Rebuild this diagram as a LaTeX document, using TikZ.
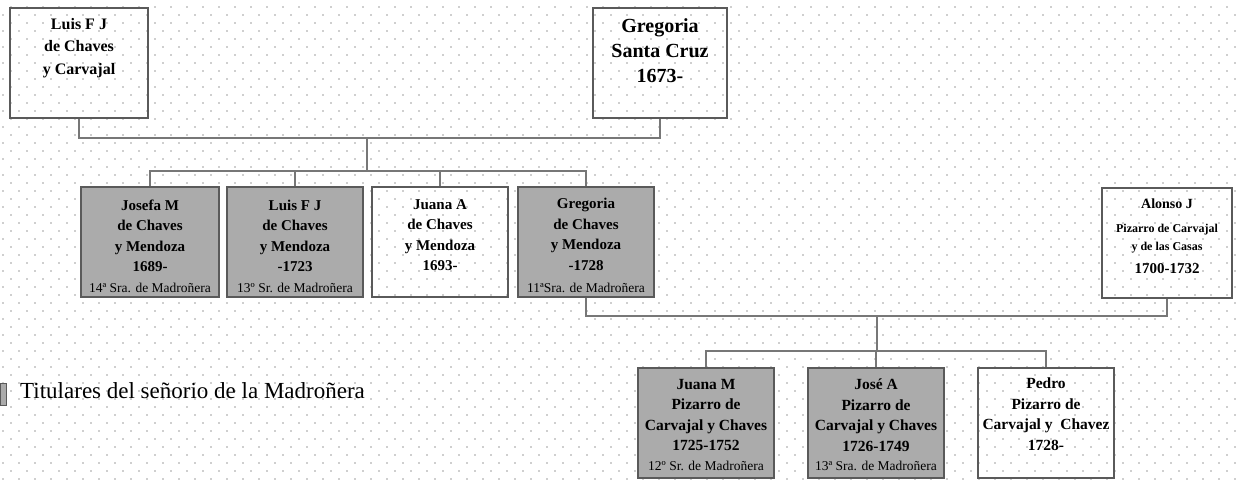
\documentclass[tikz,border=0pt]{standalone}
\usepackage{fontspec}
\setmainfont{Liberation Serif}
\definecolor{boxc}{HTML}{5A5A5A}
\definecolor{linec}{HTML}{777777}
\definecolor{fillc}{HTML}{ABABAB}
\definecolor{dotc}{HTML}{CFCFCF}
\tikzset{
  box/.style={draw=boxc, line width=1.6pt, minimum height=110pt, inner sep=0pt},
  grayfill/.style={fill=fillc},
  txt/.style={font=\bfseries\fontsize{15}{20.5}\selectfont, align=center, inner sep=0pt, anchor=north, text=black},
  rank/.style={font=\fontsize{13.5}{15}\selectfont, inner sep=0pt, anchor=base, text=black},
  small/.style={font=\bfseries\fontsize{12}{14}\selectfont, inner sep=0pt, anchor=base, text=black},
  conn/.style={draw=linec, line width=1.6pt}
}
\begin{document}
\begin{tikzpicture}[x=1pt,y=-1pt]
\useasboundingbox (0,0) rectangle (1240,483);
\fill[white] (0,0) rectangle (1240,483);
% background dot grid
\foreach \k in {0,...,29}{
  \foreach \i in {0,...,77}{
    \fill[dotc] ({11+16*\i-0.8},{6.7+16*\k-0.8}) rectangle ++(1.6,1.6);
    \fill[dotc] ({3+16*\i-0.8},{14.7+16*\k-0.8}) rectangle ++(1.6,1.6);
  }
}
% boxes
\node[box, minimum width=138pt] (A) at (79,63) {};
\node[box, minimum width=134pt] (B) at (660,63) {};
\node[box, grayfill, minimum width=138pt] (m1) at (150,242) {};
\node[box, grayfill, minimum width=136pt] (m2) at (295,242) {};
\node[box, minimum width=136pt] (m3) at (440,242) {};
\node[box, grayfill, minimum width=136pt] (m4) at (586,242) {};
\node[box, minimum width=130pt] (Al) at (1167,243) {};
\node[box, grayfill, minimum width=136pt] (b1) at (706,423) {};
\node[box, grayfill, minimum width=136pt] (b2) at (876,423) {};
\node[box, minimum width=136pt] (b3) at (1046,423) {};
% connectors top
\draw[conn] (A.south) -- ++(0,19) -| (B.south);
\coordinate (j1) at (367,137);
\coordinate (h1) at (367,172);
\draw[conn] (j1) -- (h1);
\draw[conn] (m1.north) -- ++(0,-15) -| (m4.north);
\draw[conn] (m2.north) -- (m2.north |- h1);
\draw[conn] (m3.north) -- (m3.north |- h1);
% connectors bottom
\draw[conn] (m4.south) -- ++(0,18) -| (Al.south);
\coordinate (j2) at (877,315);
\coordinate (h2) at (877,352);
\draw[conn] (j2) -- (h2);
\draw[conn] (b1.north) -- ++(0,-16) -| (b3.north);
\draw[conn] (b2.north) -- (b2.north |- h2);
% texts
\node[txt, font=\bfseries\fontsize{16}{22.5}\selectfont] (tA) at (79,18) {Luis F J\\de Chaves\\y Carvajal};
\node[txt, font=\bfseries\fontsize{20}{25}\selectfont] (tB) at (660,18) {Gregoria\\Santa Cruz\\1673-};
\node[txt] (t1) at (150,199.5) {Josefa M\\de Chaves\\y Mendoza\\1689-};
\node[rank] (r1) at (150,292) {14ª Sra. de Madroñera};
\node[txt] (t2) at (295,199.5) {Luis F J\\de Chaves\\y Mendoza\\-1723};
\node[rank] (r2) at (295,292) {13º Sr. de Madroñera};
\node[txt] (t3) at (440,199) {Juana A\\de Chaves\\y Mendoza\\1693-};
\node[rank] (r4) at (586,292) {11ªSra. de Madroñera};
\node[txt] (t4) at (586,198) {Gregoria\\de Chaves\\y Mendoza\\-1728};
\node[small, font=\bfseries\fontsize{14}{16}\selectfont] (a1) at (1167,208) {Alonso J};
\node[small] (a2) at (1167,232) {Pizarro de Carvajal};
\node[small] (a3) at (1167,250) {y de las Casas};
\node[small, font=\bfseries\fontsize{15}{17}\selectfont] (a4) at (1167,273) {1700-1732};
\node[txt, font=\bfseries\fontsize{15.5}{20.5}\selectfont] (u1) at (706,379) {Juana M\\Pizarro de\\Carvajal y Chaves\\1725-1752};
\node[rank] (s1) at (706,470) {12º Sr. de Madroñera};
\node[txt, font=\bfseries\fontsize{15.5}{20.5}\selectfont] (u2) at (876,379) {José A\\Pizarro de\\Carvajal y Chaves\\1726-1749};
\node[rank] (s2) at (876,470) {13ª Sra. de Madroñera};
\node[txt, font=\bfseries\fontsize{15.5}{20.5}\selectfont] (u3) at (1046,378) {Pedro\\Pizarro de\\Carvajal y\ \ Chavez\\1728-};
% legend
\node[draw=boxc, fill=fillc, line width=1pt, minimum width=6pt, minimum height=22pt, inner sep=0pt] (lg) at (3,394) {};
\node[font=\fontsize{23}{27}\selectfont, anchor=base west, inner sep=0pt, text=black] (lt) at (20,398) {Titulares del señorio de la Madroñera};
\end{tikzpicture}
\end{document}
